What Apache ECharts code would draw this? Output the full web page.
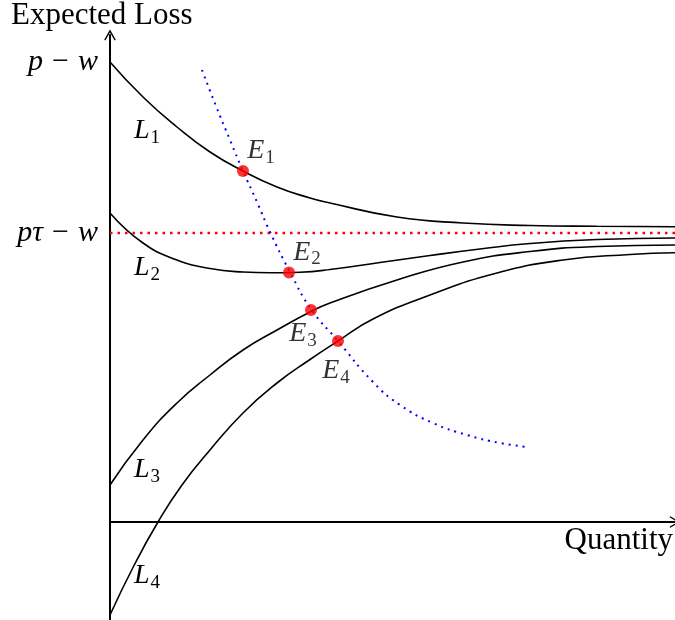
<!DOCTYPE html>
<html>
<head>
<meta charset="utf-8">
<script src="https://cdn.jsdelivr.net/npm/echarts@6/dist/echarts.min.js"></script>
<style>html,body{margin:0;padding:0;background:#fff}#c{width:675px;height:620px}</style>
</head>
<body>
<div id="c"></div>
<script>
// Curves (x = quantity, y = expected loss), arbitrary units
const curveL1 = [[0,460],[33,425],[67,395],[100,370],[133,351],[167,335],[200,324],[220,319],[287,305],[353,299],[420,296.5],[487,295.7],[565,295.3]];
const curveL2 = [[0,309],[33,279],[67,262],[100,253.5],[133,250],[160,249.2],[190,249.8],[220,252.5],[270,259.5],[320,266.5],[370,273],[420,278.5],[487,282.5],[565,284]];
const curveL3 = [[0,37],[33,82],[67,119],[100,147],[133,172],[167,192],[200,210],[220,219],[287,242],[353,260],[420,270.5],[487,275.5],[565,277]];
const curveL4 = [[0,-93],[24,-43.5],[48,0],[72,37],[100,72],[133,109],[167,139],[200,162.5],[228,181],[263,203],[320,227],[387,249],[453,262],[520,267.5],[565,269.3]];
const locus = [[92,452],[106,416],[120,382],[133,351],[147,320],[160,290],[180,250],[201,213],[228,181],[263,140],[290,117],[323,99],[357,87],[390,79],[418,75]];
const refLevel = [[0,289],[565,289]];
const equilibria = [[133,351],[179,249.5],[201,212],[228,181]];
const eqNames = ['1','2','3','4'];
const yTickValues = [460, 289];
const yTickLabels = ['{i|p}{m|−}{i|w}', '{i|pτ}{m|−}{i|w}'];

const FF = '"Liberation Serif", "DejaVu Serif", serif';
const richMath = {
  v: {fontSize: 28, fontStyle: 'italic', fontFamily: FF, color: '#000'},
  s: {fontSize: 19, fontFamily: FF, color: '#000', padding: [14, 0, 0, 1]}
};
const eqLabelOffsets = [[18, -20], [18, -20], [-8, 24], [-2, 30]];
const chart = echarts.init(document.getElementById('c'));
const arrowPath = 'path://M6,0 L12,10.6 L10.8,11.4 L6,3.2 L1.2,11.4 L0,10.6 Z';

const lineSeries = (data) => ({
  type: 'line', data: data, smooth: 0.5, showSymbol: false, silent: true,
  lineStyle: {color: '#000', width: 1.6}, z: 3
});

chart.setOption({
  animation: false,
  grid: {left: 110, right: 0, top: 35, bottom: 0},
  xAxis: {
    type: 'value', min: 0, max: 565,
    axisLine: {onZero: true, lineStyle: {color: '#000', width: 2}, symbol: ['none', arrowPath], symbolSize: [12, 11]},
    axisTick: {show: false}, axisLabel: {show: false}, splitLine: {show: false}
  },
  yAxis: {
    type: 'value', min: -98, max: 487,
    axisLine: {show: true, onZero: false, lineStyle: {color: '#000', width: 2}, symbol: ['none', arrowPath], symbolSize: [12, 11]},
    axisTick: {show: false}, splitLine: {show: false},
    axisLabel: {
      customValues: yTickValues, margin: 12,
      formatter: (v) => yTickLabels[yTickValues.indexOf(v)],
      fontSize: 30, fontFamily: FF, color: '#000',
      rich: {
        i: {fontSize: 30, fontStyle: 'italic', fontFamily: FF, color: '#000'},
        m: {fontSize: 30, fontFamily: FF, color: '#000', padding: [0, 9, 0, 9]}
      }
    }
  },
  series: [
    lineSeries(curveL1), lineSeries(curveL2), lineSeries(curveL3), lineSeries(curveL4),
    {type: 'line', data: refLevel, showSymbol: false, silent: true, z: 2,
     lineStyle: {color: '#ff0000', width: 2.5, type: [2.5, 5]}},
    {type: 'line', data: locus, smooth: 0.5, showSymbol: false, silent: true, z: 2,
     lineStyle: {color: '#0000ff', width: 2, type: [2, 5]}},
    {type: 'scatter', symbolSize: 12, z: 5,
     itemStyle: {color: '#ff0000'},
     data: equilibria.map((d, i) => ({value: d, label: {offset: eqLabelOffsets[i]}})),
     label: {
       show: true, rich: richMath, position: 'inside',
       formatter: (p) => '{v|E}{s|' + eqNames[p.dataIndex] + '}'
     }
    }
  ],
  graphic: [
    {type: 'text', left: 11, top: 0, style: {text: 'Expected Loss', font: '31px ' + FF, fill: '#000'}},
    {type: 'text', right: 2, top: 525, style: {text: 'Quantity', font: '31px ' + FF, fill: '#000'}},
    {type: 'text', left: 134, top: 117, style: {text: '{v|L}{s|1}', rich: richMath}},
    {type: 'text', left: 134, top: 254, style: {text: '{v|L}{s|2}', rich: richMath}},
    {type: 'text', left: 134, top: 456, style: {text: '{v|L}{s|3}', rich: richMath}},
    {type: 'text', left: 134, top: 562, style: {text: '{v|L}{s|4}', rich: richMath}}
  ]
});
</script>
</body>
</html>
